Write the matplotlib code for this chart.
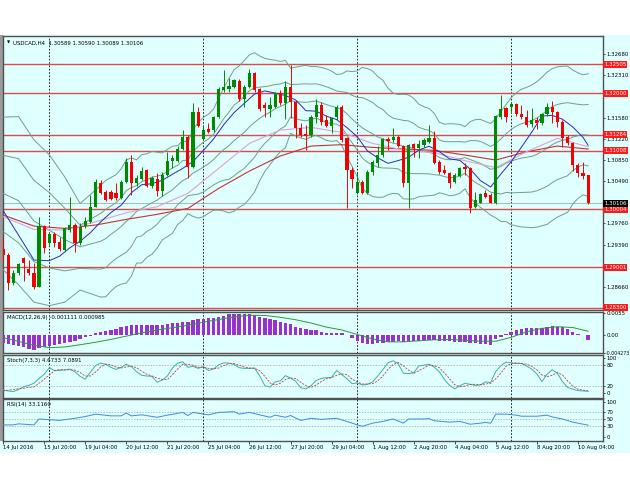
import matplotlib
matplotlib.use('Agg')
import matplotlib.pyplot as plt
import matplotlib.transforms as mtransforms
from matplotlib.patches import Rectangle

# USDCAD H4, one bar every 4 hours, 14 Jul 2016 12:00 .. 10 Aug 2016 12:00
opens = [1.29310, 1.29212, 1.28735, 1.28896, 1.29155, 1.28965, 1.28907, 1.28654, 1.29712, 1.29413,
         1.29574, 1.29442, 1.29298, 1.29643, 1.29730, 1.29413, 1.29712, 1.29787, 1.30046, 1.30460,
         1.30299, 1.30299, 1.30287, 1.30190, 1.30477, 1.30822, 1.30448, 1.30517, 1.30678, 1.30408,
         1.30517, 1.30322, 1.30592, 1.30839, 1.30839, 1.31035, 1.31253, 1.30724, 1.31685, 1.31207,
         1.31380, 1.31368, 1.31587, 1.32058, 1.32070, 1.32116, 1.32219, 1.31897, 1.32116, 1.32357,
         1.32070, 1.31800, 1.31725, 1.31771, 1.32012, 1.31828, 1.32116, 1.31857, 1.31397, 1.31294,
         1.31282, 1.31587, 1.31800, 1.31541, 1.31437, 1.31587, 1.31771, 1.31225, 1.30678, 1.30287,
         1.30477, 1.30276, 1.30650, 1.30805, 1.30937, 1.31207, 1.31196, 1.31253, 1.31092, 1.30448,
         1.31127, 1.31052, 1.31110, 1.31167, 1.31225, 1.30822, 1.30678, 1.30632, 1.30477, 1.30575,
         1.30724, 1.30707, 1.30034, 1.30115, 1.30276, 1.30247, 1.30103, 1.31598, 1.31742, 1.31771,
         1.31817, 1.31644, 1.31598, 1.31472, 1.31541, 1.31483, 1.31644, 1.31771, 1.31685, 1.31512,
         1.31253, 1.31138, 1.30765, 1.30632, 1.30589]
highs = [1.29528, 1.29241, 1.28953, 1.29080, 1.29183, 1.29126, 1.29068, 1.29873, 1.29730, 1.29615,
         1.29615, 1.29517, 1.29701, 1.30218, 1.29770, 1.29758, 1.29873, 1.30247, 1.30517, 1.30506,
         1.30333, 1.30333, 1.30448, 1.30506, 1.30880, 1.30937, 1.30592, 1.30736, 1.30690, 1.30575,
         1.30632, 1.30650, 1.30995, 1.30937, 1.31092, 1.31368, 1.31282, 1.31828, 1.31771, 1.31455,
         1.31483, 1.31610, 1.32116, 1.32403, 1.32260, 1.32242, 1.32242, 1.32145, 1.32415, 1.32375,
         1.32087, 1.31857, 1.31943, 1.32030, 1.32058, 1.32219, 1.32490, 1.31886, 1.31483, 1.31455,
         1.31627, 1.31897, 1.31857, 1.31627, 1.31598, 1.31800, 1.31800, 1.31253, 1.30724, 1.30621,
         1.30506, 1.30678, 1.30851, 1.31092, 1.31225, 1.31253, 1.31397, 1.31282, 1.31110, 1.31127,
         1.31138, 1.31196, 1.31225, 1.31455, 1.31357, 1.30851, 1.30765, 1.30650, 1.30621, 1.30736,
         1.30805, 1.30724, 1.30305, 1.30287, 1.30333, 1.30276, 1.31627, 1.31972, 1.31771, 1.31857,
         1.31840, 1.31800, 1.31713, 1.31742, 1.31598, 1.31667, 1.31840, 1.31874, 1.31702, 1.31541,
         1.31282, 1.31167, 1.30805, 1.30822, 1.30590]
lows = [1.29126, 1.28608, 1.28695, 1.28867, 1.28769, 1.28867, 1.28620, 1.28654, 1.29241, 1.29385,
        1.29356, 1.29287, 1.29287, 1.29615, 1.29270, 1.29385, 1.29672, 1.29770, 1.30034, 1.30264,
        1.30149, 1.30161, 1.30161, 1.30172, 1.30460, 1.30247, 1.30402, 1.30506, 1.30391, 1.30362,
        1.30230, 1.30230, 1.30575, 1.30707, 1.30822, 1.31023, 1.30535, 1.30707, 1.31414, 1.31196,
        1.31322, 1.31340, 1.31570, 1.32030, 1.32030, 1.32087, 1.31874, 1.31771, 1.32087, 1.32030,
        1.31702, 1.31587, 1.31587, 1.31742, 1.31800, 1.31552, 1.31570, 1.31225, 1.31253, 1.31023,
        1.31253, 1.31483, 1.31455, 1.31414, 1.31311, 1.31541, 1.31167, 1.30017, 1.30362, 1.30264,
        1.30264, 1.30264, 1.30592, 1.30724, 1.30908, 1.31023, 1.31167, 1.31081, 1.30391, 1.30017,
        1.30897, 1.30880, 1.31081, 1.31138, 1.30782, 1.30609, 1.30609, 1.30362, 1.30460, 1.30552,
        1.30592, 1.29942, 1.30017, 1.30103, 1.30190, 1.30103, 1.30092, 1.31552, 1.31512, 1.31667,
        1.31610, 1.31552, 1.31426, 1.31414, 1.31380, 1.31455, 1.31610, 1.31483, 1.31426, 1.31081,
        1.31110, 1.30667, 1.30563, 1.30517, 1.30089]
closes = [1.29212, 1.28735, 1.28896, 1.29057, 1.29080, 1.28907, 1.28654, 1.29712, 1.29327, 1.29574,
          1.29413, 1.29310, 1.29672, 1.29730, 1.29413, 1.29701, 1.29804, 1.30034, 1.30477, 1.30287,
          1.30161, 1.30172, 1.30190, 1.30477, 1.30822, 1.30460, 1.30535, 1.30667, 1.30408, 1.30535,
          1.30322, 1.30592, 1.30839, 1.30880, 1.31035, 1.31253, 1.30724, 1.31685, 1.31437, 1.31368,
          1.31340, 1.31587, 1.32070, 1.32116, 1.32127, 1.32231, 1.31897, 1.32116, 1.32346, 1.32058,
          1.31725, 1.31742, 1.31800, 1.32012, 1.31828, 1.32116, 1.31857, 1.31397, 1.31282, 1.31265,
          1.31587, 1.31800, 1.31512, 1.31437, 1.31570, 1.31771, 1.31196, 1.30678, 1.30517, 1.30477,
          1.30276, 1.30650, 1.30822, 1.30937, 1.31207, 1.31184, 1.31253, 1.31092, 1.30448, 1.31110,
          1.31052, 1.31127, 1.31196, 1.31225, 1.30805, 1.30650, 1.30632, 1.30460, 1.30592, 1.30707,
          1.30690, 1.30017, 1.30161, 1.30264, 1.30218, 1.30115, 1.31610, 1.31725, 1.31587, 1.31817,
          1.31644, 1.31587, 1.31455, 1.31541, 1.31483, 1.31644, 1.31771, 1.31685, 1.31512, 1.31225,
          1.31138, 1.30765, 1.30632, 1.30575, 1.30106]

# blue MA(10): bars 0, 3, 6, then every second bar from 9, and the last bar
ma_fast_bar = [0, 3, 6] + list(range(9, 114, 2)) + [114]
ma_fast = [1.29977, 1.29557, 1.29126,
           1.29115, 1.29193, 1.29338, 1.29451, 1.29598, 1.29784, 1.29945, 1.30072, 1.30288, 1.30425,
           1.30443, 1.30501, 1.30606, 1.30707, 1.30827, 1.31014, 1.31215, 1.31462, 1.31669, 1.31829,
           1.31989, 1.32043, 1.32005, 1.31964, 1.31888, 1.31702, 1.31694, 1.31608, 1.31548, 1.31410,
           1.31254, 1.31008, 1.30889, 1.30794, 1.30842, 1.30898, 1.31023, 1.31089, 1.30996, 1.30871,
           1.30845, 1.30697, 1.30498, 1.30386, 1.30610, 1.30820, 1.31073, 1.31330, 1.31609, 1.31621,
           1.31555, 1.31422, 1.31243, 1.31105]
# pink and red MAs, read every 6 bars
ma_mid = [1.29873, 1.29655, 1.29643, 1.29787, 1.29942, 1.30046, 1.30276, 1.30707, 1.31138, 1.31368,
          1.31414, 1.31328, 1.31138, 1.31023, 1.30978, 1.30839, 1.30719, 1.30995, 1.31225, 1.31081]
ma_slow = [1.29902, 1.29712, 1.29672, 1.29730, 1.29828, 1.29914, 1.30017, 1.30362, 1.30661, 1.30920,
           1.31092, 1.31116, 1.31069, 1.31041, 1.31018, 1.30937, 1.30851, 1.30995, 1.31092, 1.31041]

# Bollinger Bands (20): middle line and deviation; bars 0..15 every 3, then every bar from 19
bb_bar = [0, 3, 6, 9, 12, 15] + list(range(19, 115))
bb_mid = [1.30275, 1.30150, 1.29800, 1.29640, 1.29480, 1.29355,
          1.29450, 1.29497, 1.29569, 1.29634, 1.29705, 1.29792, 1.29869, 1.29964, 1.30011, 1.30065,
          1.30113, 1.30159, 1.30223, 1.30281, 1.30339, 1.30420, 1.30497, 1.30543, 1.30626, 1.30674,
          1.30728, 1.30787, 1.30858, 1.30952, 1.31034, 1.31099, 1.31188, 1.31256, 1.31328, 1.31425,
          1.31501, 1.31571, 1.31629, 1.31677, 1.31733, 1.31773, 1.31816, 1.31873, 1.31859, 1.31851,
          1.31846, 1.31858, 1.31869, 1.31841, 1.31807, 1.31779, 1.31756, 1.31721, 1.31649, 1.31558,
          1.31478, 1.31406, 1.31351, 1.31303, 1.31249, 1.31218, 1.31171, 1.31141, 1.31126, 1.31084,
          1.31076, 1.31049, 1.31016,
          1.31000, 1.30989, 1.30951, 1.30895, 1.30867, 1.30856, 1.30860, 1.30871, 1.30892, 1.30860,
          1.30827, 1.30794, 1.30744, 1.30691, 1.30709, 1.30740, 1.30797, 1.30832, 1.30862, 1.30885,
          1.30898, 1.30914, 1.30948, 1.30997, 1.31054, 1.31116, 1.31162, 1.31188, 1.31210, 1.31247,
          1.31271, 1.31286, 1.31281]
bb_dev = [0.00658, 0.00725, 0.00700, 0.00650, 0.00540, 0.00373,
          0.00481, 0.00502, 0.00490, 0.00482, 0.00497, 0.00531, 0.00509, 0.00445, 0.00467, 0.00446,
          0.00443, 0.00414, 0.00375, 0.00376, 0.00375, 0.00340, 0.00344, 0.00308, 0.00374, 0.00412,
          0.00428, 0.00427, 0.00436, 0.00482, 0.00531, 0.00579, 0.00610,
          0.00609, 0.00621, 0.00621, 0.00600, 0.00537, 0.00488, 0.00454, 0.00420, 0.00389, 0.00377,
          0.00281, 0.00297, 0.00310, 0.00319, 0.00303, 0.00297, 0.00303, 0.00308, 0.00303, 0.00285,
          0.00308, 0.00369, 0.00409, 0.00455, 0.00521, 0.00539, 0.00541, 0.00521, 0.00504, 0.00459,
          0.00432, 0.00428, 0.00451, 0.00449, 0.00434, 0.00399, 0.00385, 0.00376, 0.00353, 0.00304,
          0.00301, 0.00311, 0.00307, 0.00297, 0.00268, 0.00326, 0.00360, 0.00379, 0.00386, 0.00395,
          0.00427, 0.00475, 0.00504, 0.00548, 0.00574, 0.00593, 0.00603, 0.00615, 0.00627, 0.00640,
          0.00656, 0.00655, 0.00648, 0.00640, 0.00630, 0.00578, 0.00542, 0.00517, 0.00529]
bb_widths = [2, 1]

levels = [1.32505, 1.32000, 1.31284, 1.31008, 1.30004, 1.29001, 1.28300]
price_ticks = [1.32680, 1.32310, 1.31580, 1.31220, 1.30850, 1.30490, 1.29760, 1.29390, 1.28660]

# MACD(12,26,9): histogram every bar, signal every 3 bars
macd_main = [-0.00179, -0.00211, -0.00236, -0.00260, -0.00293, -0.00325, -0.00358, -0.00317, -0.00293, -0.00260,
             -0.00236, -0.00211, -0.00195, -0.00154, -0.00130, -0.00081, -0.00049, -0.00016, 0.00049, 0.00089,
             0.00106, 0.00130, 0.00146, 0.00195, 0.00228, 0.00244, 0.00252, 0.00252, 0.00252, 0.00244,
             0.00244, 0.00252, 0.00276, 0.00293, 0.00309, 0.00333, 0.00325, 0.00374, 0.00390, 0.00407,
             0.00415, 0.00423, 0.00455, 0.00480, 0.00512, 0.00520, 0.00520, 0.00512, 0.00512, 0.00504,
             0.00455, 0.00415, 0.00398, 0.00374, 0.00333, 0.00309, 0.00276, 0.00195, 0.00171, 0.00146,
             0.00130, 0.00130, 0.00089, 0.00065, 0.00065, 0.00065, 0.00049, 0.00008, -0.00057, -0.00130,
             -0.00195, -0.00211, -0.00211, -0.00195, -0.00179, -0.00154, -0.00154, -0.00146, -0.00154, -0.00138,
             -0.00130, -0.00130, -0.00122, -0.00114, -0.00114, -0.00130, -0.00130, -0.00138, -0.00154, -0.00154,
             -0.00154, -0.00179, -0.00195, -0.00211, -0.00211, -0.00228, -0.00098, -0.00033, 0.00024, 0.00081,
             0.00130, 0.00154, 0.00171, 0.00171, 0.00179, 0.00187, 0.00211, 0.00228, 0.00211, 0.00195,
             0.00146, 0.00089, 0.00033, 0.00000, -0.001111]
macd_signal = [-0.00057, -0.00150, -0.00244, -0.00300, -0.00285, -0.00230, -0.00170, -0.00100, -0.00020, 0.00060,
               0.00130, 0.00185, 0.00245, 0.00320, 0.00385, 0.00450, 0.00488, 0.00485, 0.00440, 0.00380,
               0.00300, 0.00200, 0.00130, 0.00020, -0.00090, -0.00160, -0.00160, -0.00135, -0.00110, -0.00100,
               -0.00120, -0.00145, -0.00145, -0.00050, 0.00085, 0.00170, 0.00210, 0.00190, 0.000985]

# Stochastic(7,3,3), every bar
stoch_k = [8.6, 6, 4, 10, 18, 22, 28, 42,
           54, 73, 65, 65, 67, 69, 61, 48, 40, 60, 79, 86, 83, 74, 68, 74, 83, 76, 61, 51,
           49, 48, 31, 37, 49, 72, 86, 90, 74, 77, 71, 76, 65, 69, 81, 87, 86, 82, 73, 71,
           71, 72, 49, 21, 17, 32, 35, 50, 43, 34, 15, 12, 21, 36, 42, 44, 45, 65, 53, 41,
           27, 29, 23, 25, 32, 49, 67, 87, 93, 84, 57, 56, 58, 78, 80, 83, 75, 61, 39, 22,
           12, 21, 28, 25, 22, 23, 32, 30, 62, 79, 89, 87, 85, 85, 78, 69, 55, 33, 54, 67,
           57, 33, 16, 11, 7, 6, 4.6733]
stoch_d = [6, 8, 10, 12, 14, 16, 18, 28, 40, 52,
           64, 68, 66, 67, 66, 59, 49, 49, 60, 75, 83, 81, 75, 72, 75, 77, 73, 63, 54, 49,
           43, 39, 39, 53, 69, 83, 83, 80, 74, 75, 71, 70, 72, 79, 85, 85, 80, 75, 72, 71,
           64, 48, 29, 23, 28, 39, 43, 42, 31, 21, 16, 23, 33, 41, 44, 51, 55, 53, 40, 32,
           26, 26, 27, 35, 49, 68, 82, 88, 78, 66, 57, 64, 72, 81, 79, 73, 58, 41, 24, 18,
           20, 25, 25, 24, 26, 28, 41, 57, 77, 85, 87, 85, 83, 77, 67, 52, 47, 51, 59, 52,
           35, 20, 11, 8, 7.0891]

# RSI(14), read at these bars
rsi_bar = [0, 2, 3, 6, 7, 9, 11, 14, 16, 18, 21, 23, 24, 25, 27, 30, 32, 35, 36, 37, 40, 42, 45, 46, 48,
           50, 52, 53, 55, 56, 58, 60, 62, 63, 65, 67, 69, 70, 72, 74, 76, 78, 79, 82, 83, 84, 87, 89,
           91, 93, 94, 95, 96, 98, 100, 101, 104, 106, 107, 109, 111, 112, 114]
rsi = [34, 34, 37, 34, 51, 49, 47, 53, 58, 65, 60, 60, 68, 60, 63, 56, 62, 70, 61, 70, 63, 70, 72, 65, 70,
       63, 56, 62, 56, 61, 47, 53, 50, 51, 53, 44, 34, 30, 39, 44, 51, 39, 51, 51, 52, 46, 42, 44,
       36, 39, 41, 39, 65, 65, 62, 59, 59, 62, 57, 51, 42, 39, 33.116]

x_labels = ['14 Jul 2016', '15 Jul 20:00', '19 Jul 04:00', '20 Jul 12:00', '21 Jul 20:00',
            '25 Jul 04:00', '26 Jul 12:00', '27 Jul 20:00', '29 Jul 04:00', '1 Aug 12:00',
            '2 Aug 20:00', '4 Aug 04:00', '5 Aug 12:00', '8 Aug 20:00', '10 Aug 04:00']
week_starts = [9, 39, 69, 99]

BG = '#e0ffff'
UP, DOWN = '#008a00', '#f50000'
BAND = '#6f9f86'
FS = 3.9
plt.rcParams['font.family'] = 'DejaVu Sans'

n = len(closes)
idx = list(range(n))
x3 = list(range(0, n, 3))
x6 = list(range(0, n, 6))

W, H = 630, 490
def rect(x0, y0, x1, y1):
    return [x0 / W, 1 - y1 / H, (x1 - x0) / W, (y1 - y0) / H]

fig = plt.figure(figsize=(W / 100, H / 100), dpi=100)
fig.patches.append(Rectangle((0, 1 - 453 / H), 1, (453 - 35) / H, transform=fig.transFigure,
                             facecolor=BG, edgecolor='none', zorder=-5))
fig.patches.append(Rectangle((0, 1 - 441 / H), 2.5 / W, (441 - 35) / H, transform=fig.transFigure,
                             facecolor='#9a9a9a', edgecolor='none', zorder=-4))

ax = fig.add_axes(rect(3, 36, 603, 310))
ax_macd = fig.add_axes(rect(3, 311.5, 603, 353))
ax_st = fig.add_axes(rect(3, 354.5, 603, 397.5))
ax_rsi = fig.add_axes(rect(3, 399, 603, 441))

for a in [ax, ax_macd, ax_st, ax_rsi]:
    a.set_facecolor(BG)
    a.set_xlim(-0.03, 116.9)
    for s in a.spines.values():
        s.set_color('#505050')
        s.set_linewidth(1.0)
    a.yaxis.tick_right()
    a.tick_params(axis='y', labelsize=FS, length=1.5, width=0.5, pad=0.8, colors='black')
    a.tick_params(axis='x', length=0, labelbottom=False)
    for w in week_starts:
        a.axvline(w, color='black', lw=0.6, ls=(0, (2, 2)), zorder=1)

# ---- price window
ax.set_ylim(1.28265, 1.32990)
for lv in levels:
    ax.axhline(lv, color='#d84c4c', lw=1.0, zorder=2)
ax.axhline(closes[-1], color='#a8a8a8', lw=0.6, zorder=2)

ax.plot(bb_bar, bb_mid, color=BAND, lw=0.7, zorder=3)
for k in bb_widths:
    ax.plot(bb_bar, [m + k * d for m, d in zip(bb_mid, bb_dev)], color=BAND, lw=0.7, zorder=3)
    ax.plot(bb_bar, [m - k * d for m, d in zip(bb_mid, bb_dev)], color=BAND, lw=0.7, zorder=3)
ax.plot(x6, ma_slow, color='#c83232', lw=0.8, zorder=3)
ax.plot(x6, ma_mid, color='#e0a0d8', lw=0.8, zorder=3)
ax.plot(ma_fast_bar, ma_fast, color='#2a2ab8', lw=0.7, zorder=3)

for i in idx:
    o, h, l, c = opens[i], highs[i], lows[i], closes[i]
    col = UP if c >= o else DOWN
    ax.vlines(i, l, h, color=col, lw=0.7, zorder=4)
    ax.bar(i, max(abs(c - o), 0.00004), bottom=min(o, c), width=0.62, color=col, linewidth=0, zorder=5)

ax.set_yticks(price_ticks)
ax.set_yticklabels([f'{t:.5f}' for t in price_ticks])
tr = mtransforms.blended_transform_factory(ax.transAxes, ax.transData)
for lv in levels:
    ax.text(1.002, lv, f'{lv:.5f}', transform=tr, fontsize=FS, color='white', va='center', ha='left',
            bbox=dict(boxstyle='square,pad=0.18', fc='#ff1a1a', ec='none'), clip_on=False, zorder=10)
ax.text(1.002, closes[-1], f'{closes[-1]:.5f}', transform=tr, fontsize=FS, color='white', va='center',
        ha='left', bbox=dict(boxstyle='square,pad=0.18', fc='black', ec='none'), clip_on=False, zorder=11)
ax.text(0.006, 0.975, '\u25bc', transform=ax.transAxes, fontsize=3, va='center', ha='left')
ax.text(0.017, 0.975, 'USDCAD,H4  %.5f %.5f %.5f %.5f' % (opens[-1], highs[-1], lows[-1], closes[-1]),
        transform=ax.transAxes, fontsize=FS, va='center', ha='left')

# ---- MACD
ax_macd.set_ylim(-0.00432, 0.00581)
ax_macd.bar(idx, macd_main, width=0.66, color='#9b30d0', linewidth=0, zorder=3)
ax_macd.plot(x3, macd_signal, color='#2e9a2e', lw=0.7, zorder=4)
ax_macd.set_yticks([0.0055, 0.0, -0.004273])
ax_macd.set_yticklabels(['0.0055', '0.00', '-0.004273'])
ax_macd.get_yticklabels()[2].set_fontsize(3.4)
ax_macd.text(0.006, 0.86, 'MACD(12,26,9) -0.001111 0.000985', transform=ax_macd.transAxes,
             fontsize=FS, va='center', ha='left')

# ---- Stochastic
ax_st.set_ylim(-13, 111)
for lv in (80, 20):
    ax_st.axhline(lv, color='#a0a0a0', lw=0.5, ls=(0, (2, 2)))
ax_st.plot(idx, stoch_k, color='#3cb0a8', lw=0.7, zorder=4)
ax_st.plot(idx, stoch_d, color='#c04040', lw=0.6, ls=(0, (2.5, 1.5)), zorder=4)
ax_st.set_yticks([100, 80, 20, 0])
ax_st.set_yticklabels(['100', '80', '20', '0'])
ax_st.text(0.006, 0.86, 'Stoch(7,3,3) 4.6733 7.0891', transform=ax_st.transAxes,
           fontsize=FS, va='center', ha='left')

# ---- RSI
ax_rsi.set_ylim(-12.4, 108.6)
for lv in (70, 50, 30):
    ax_rsi.axhline(lv, color='#a0a0a0', lw=0.5, ls=(0, (2, 2)))
ax_rsi.plot(rsi_bar, rsi, color='#3c8ce0', lw=0.7, zorder=4)
ax_rsi.set_yticks([100, 70, 50, 30, 0])
ax_rsi.set_yticklabels(['100', '70', '50', '30', '0'])
ax_rsi.text(0.006, 0.86, 'RSI(14) 33.1160', transform=ax_rsi.transAxes,
            fontsize=FS, va='center', ha='left')

ax_rsi.set_xticks(list(range(0, 113, 8)))
ax_rsi.set_xticklabels(x_labels)
ax_rsi.tick_params(axis='x', labelbottom=True, labelsize=FS, length=2, width=0.5, pad=1)
for lab in ax_rsi.get_xticklabels():
    lab.set_horizontalalignment('left')

fig.savefig('out.png', dpi=100, facecolor='white')
plt.close(fig)
